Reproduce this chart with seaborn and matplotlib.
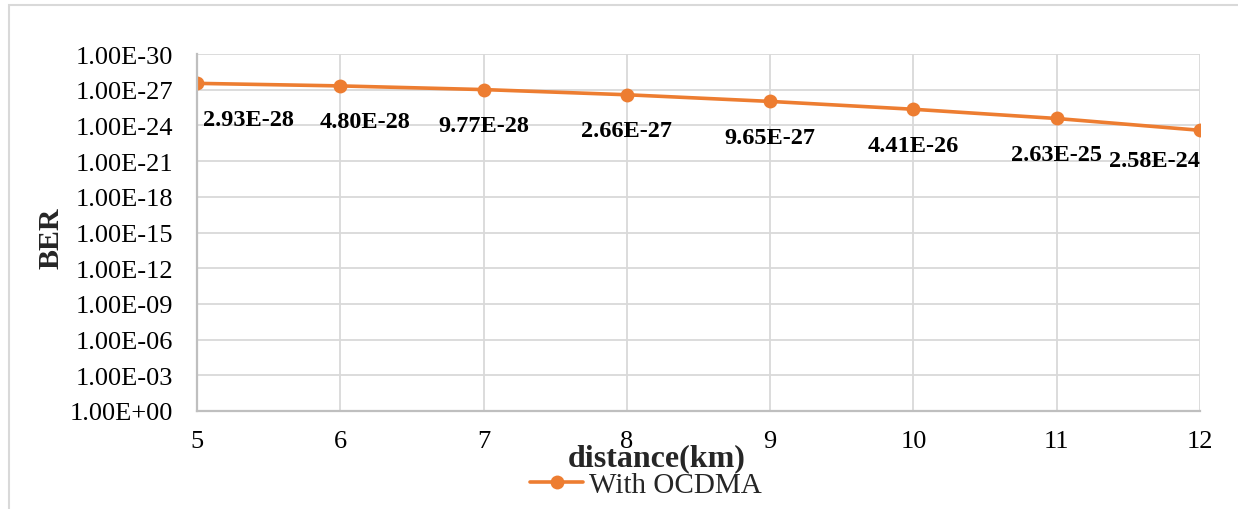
import matplotlib
matplotlib.use("Agg")
import matplotlib.pyplot as plt
from matplotlib.patches import Rectangle
import seaborn as sns
import pandas as pd

# BER against fibre length for the OCDMA link
distance_km = [5, 6, 7, 8, 9, 10, 11, 12]
ber = [2.93e-28, 4.80e-28, 9.77e-28, 2.66e-27, 9.65e-27, 4.41e-26, 2.63e-25, 2.58e-24]
series_name = "With OCDMA"
y_ticks = [1e-30, 1e-27, 1e-24, 1e-21, 1e-18, 1e-15, 1e-12, 1e-09, 1e-06, 1e-03, 1e+00]
y_tick_labels = ["1.00E-30", "1.00E-27", "1.00E-24", "1.00E-21", "1.00E-18", "1.00E-15",
                 "1.00E-12", "1.00E-09", "1.00E-06", "1.00E-03", "1.00E+00"]

df = pd.DataFrame({"distance": distance_km, "BER": ber, "series": series_name})

sns.set_theme(style="white")
plt.rcParams["font.family"] = ["Liberation Serif", "DejaVu Serif"]

W, H = 1238, 510
fig = plt.figure(figsize=(W / 100, H / 100), dpi=100)
ax = fig.add_axes([197 / W, 1 - 412 / H, (1200 - 197) / W, (412 - 55) / H])

orange = "#ED7D31"
sns.lineplot(data=df, x="distance", y="BER", hue="series", palette=[orange],
             marker="o", markersize=10, markeredgewidth=0, linewidth=2.6,
             ax=ax, legend=True)

ax.set_yscale("log")
ax.set_ylim(1e0, 1e-30)
ax.set_yticks(y_ticks)
ax.set_yticklabels(y_tick_labels)
ax.minorticks_off()
ax.set_xlim(5, 12)
ax.set_xticks(distance_km)
ax.set_xticklabels([str(d) for d in distance_km])

grid_c = "#d9d9d9"
ax.grid(True, color=grid_c, linewidth=1.3)
ax.set_axisbelow(True)
for s in ["top", "right"]:
    ax.spines[s].set_visible(False)
for s in ["left", "bottom"]:
    ax.spines[s].set_color("#bfbfbf")
    ax.spines[s].set_linewidth(1.6)

ax.tick_params(axis="y", length=0, pad=17, labelsize=19, colors="black")
ax.tick_params(axis="x", direction="in", length=6, width=1.3, color="#bfbfbf",
               pad=14, labelsize=19, labelcolor="black")

ax.set_xlabel("")
ax.set_ylabel("")
fig.text(657 / W, 1 - 459 / H, "distance(km)", ha="center", va="center",
         fontsize=23, fontweight="bold")
fig.text(51 / W, 1 - 238 / H, "BER", ha="center", va="center", rotation=90,
         fontsize=21.5, fontweight="bold")

# value labels under each marker (nudged so neighbours do not collide)
for i, (d, v) in enumerate(zip(distance_km, ber)):
    ha, dx, dy = "center", 0, -36
    if i == 0:
        ha, dx = "left", 6
    elif i == 1:
        dx = 25
    elif i == len(ber) - 1:
        ha, dy = "right", -30
    ax.annotate(f"{v:.2E}", (d, v), xytext=(dx, dy), textcoords="offset pixels",
                ha=ha, va="center", fontsize=17.5, fontweight="bold", color="black",
                annotation_clip=False)

leg = ax.legend(loc="center", bbox_to_anchor=(646 / W, 1 - 486 / H),
                bbox_transform=fig.transFigure, frameon=False, fontsize=21,
                handlelength=1.8, handletextpad=0.2, borderpad=0)

# chart-area border
fig.patches.append(Rectangle((9 / W, -0.05), 1.1, 1 - 6 / H + 0.05,
                             transform=fig.transFigure, fill=False,
                             edgecolor="#d9d9d9", linewidth=1.5))

fig.savefig("out.png", dpi=100)
